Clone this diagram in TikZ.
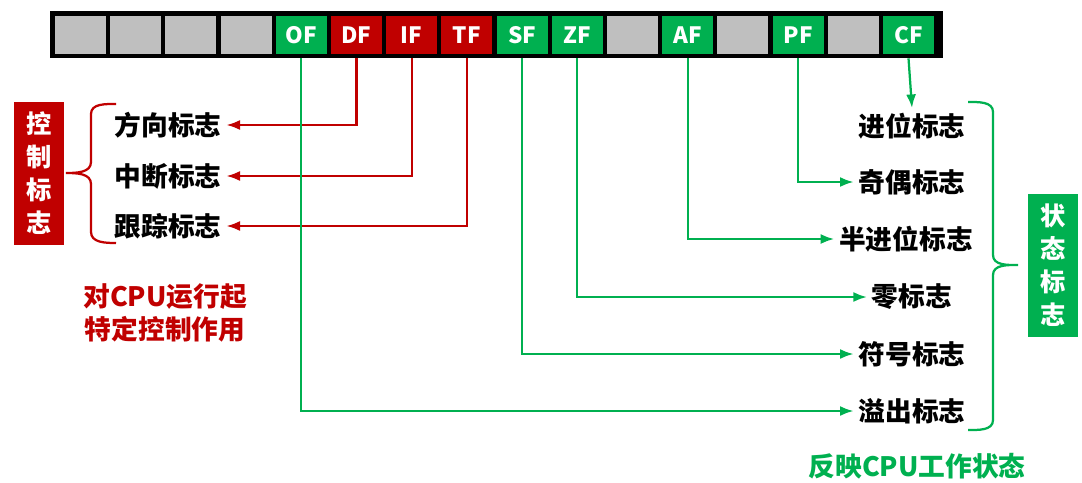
\documentclass[tikz,border=0pt]{standalone}
\usepackage{fontspec}
\setmainfont{Noto Sans CJK SC}
\usetikzlibrary{arrows.meta}
\definecolor{ctrlred}{HTML}{C00000}
\definecolor{flaggreen}{HTML}{00B050}
\definecolor{cellgray}{HTML}{BFBFBF}
\begin{document}
\begin{tikzpicture}[x=0.025cm,y=-0.025cm,
    cell/.style={minimum width=1.275cm,minimum height=0.95cm,inner sep=0pt,
      text=white,font=\fontsize{16}{18}\selectfont\bfseries},
    lbl/.style={font=\fontsize{19}{22}\selectfont\bfseries},
    tag/.style={minimum width=1.25cm,minimum height=3.575cm,inner sep=0pt,align=center,
      text=white,font=\fontsize{18}{23.5}\selectfont\bfseries},
    redline/.style={draw=ctrlred,line width=1.6pt,-{Latex[length=3.4mm,width=2.5mm]}},
    greenline/.style={draw=flaggreen,line width=1.6pt,-{Latex[length=3.4mm,width=2.5mm]}}]
  \useasboundingbox (0,0) rectangle (1082,482);
  % flag register
  \node[fill=black,minimum width=22.325cm,minimum height=1.175cm,inner sep=0pt] (reg) at (496.5,34.5) {};
  \foreach \i in {0,1,2,3,10,12,14}
    \node[cell,fill=cellgray] (g\i) at ({80.5+55.2*\i},35) {};
  \foreach \i/\nm/\col in {4/OF/flaggreen,5/DF/ctrlred,6/IF/ctrlred,7/TF/ctrlred,
      8/SF/flaggreen,9/ZF/flaggreen,11/AF/flaggreen,13/PF/flaggreen,15/CF/flaggreen}
    \node[cell,fill=\col] (\nm) at ({80.5+55.2*\i},35) {\nm};

  % control flags
  \node[lbl] (dir) at (168,125) {方向标志};
  \node[lbl] (intr) at (168,176) {中断标志};
  \node[lbl] (trap) at (168,226) {跟踪标志};
  \draw[redline] (DF |- reg.south) |- (dir.east);
  \draw[redline] (IF |- reg.south) |- (intr.east);
  \draw[redline] (TF |- reg.south) |- (trap.east);
  \node[tag,fill=ctrlred] (ctrl) at (39,173.5) {控\\制\\标\\志};
  \draw[ctrlred,line width=1.6pt] (116,104) to[out=180,in=90] (91,114) -- (91,162)
    to[out=-90,in=0] (66,173) to[out=0,in=90] (91,184) -- (91,232)
    to[out=-90,in=180] (116,243);
  \node[lbl,text=ctrlred,align=center,font=\fontsize{19}{23}\selectfont\bfseries] (ctrlnote) at (165,313) {对CPU运行起\\特定控制作用};

  % status flags
  \node[lbl] (carry) at (912,126) {进位标志};
  \node[lbl] (par) at (912,182) {奇偶标志};
  \node[lbl] (aux) at (906,239) {半进位标志};
  \node[lbl] (zero) at (912,297) {零标志};
  \node[lbl] (sign) at (912,354) {符号标志};
  \node[lbl] (ovf) at (912,411) {溢出标志};
  \draw[greenline] (CF |- reg.south) -- (carry.north);
  \draw[greenline] (PF |- reg.south) |- (par.west);
  \draw[greenline] (AF |- reg.south) |- (aux.west);
  \draw[greenline] (ZF |- reg.south) |- (zero.west);
  \draw[greenline] (SF |- reg.south) |- (sign.west);
  \draw[greenline] (OF |- reg.south) |- (ovf.west);
  \draw[flaggreen,line width=1.6pt] (968,102) to[out=0,in=90] (993,112) -- (993,255)
    to[out=-90,in=180] (1018,265) to[out=180,in=90] (993,275) -- (993,420)
    to[out=-90,in=0] (968,430);
  \node[tag,fill=flaggreen] (stat) at (1053,265.5) {状\\态\\标\\志};
  \node[lbl,text=flaggreen] (statnote) at (917,466) {反映CPU工作状态};
\end{tikzpicture}
\end{document}
